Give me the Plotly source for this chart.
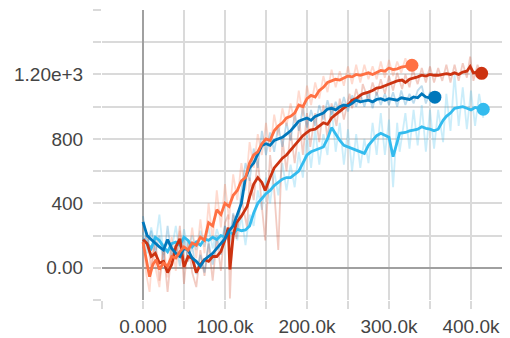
import plotly.graph_objects as go

# ---- data (steps in thousands) ----
orange_steps = [0,4,8,12,16,20,25,30,35,40,45,50,55,60,65,70,75,80,85,90,95,100,105,110,115,120,125,130,135,140,145,150,155,160,165,170,175,180,185,190,195,200,205,210,215,220,225,230,235,240,245,250,255,260,265,270,275,280,285,290,295,300,305,310,315,320,325,328]
orange_smooth = [160,40,-55,20,50,-10,30,10,70,60,100,130,110,155,140,190,170,280,260,360,330,400,380,450,480,540,560,650,700,720,770,800,790,850,880,900,930,940,960,1010,1000,1050,1070,1060,1100,1120,1150,1160,1170,1165,1180,1190,1185,1200,1195,1205,1210,1200,1215,1225,1220,1240,1230,1235,1245,1250,1255,1257]
orange_raw = [180,-40,-150,120,-20,-120,150,-60,190,-20,230,60,40,250,60,300,90,400,170,480,250,520,300,580,420,650,480,780,620,830,700,900,720,950,820,990,880,1020,900,1100,940,1130,1010,1150,1050,1190,1090,1230,1120,1220,1130,1250,1140,1260,1150,1260,1170,1250,1170,1280,1180,1290,1190,1280,1210,1300,1220,1270]

blue_steps = [0,5,10,15,20,25,30,35,40,45,50,55,60,65,70,75,80,85,90,95,100,105,110,115,120,125,130,135,140,145,150,155,160,165,170,175,180,185,190,195,200,205,210,215,220,225,230,235,240,245,250,255,260,265,270,275,280,285,290,295,300,305,310,315,320,325,330,335,340,345,350,356]
blue_smooth = [285,200,175,150,130,110,175,120,90,70,120,110,60,40,10,50,70,90,120,150,180,230,260,330,400,560,620,650,700,760,770,760,790,800,810,830,850,880,910,920,930,915,940,950,960,985,990,980,1000,1010,1005,1020,1040,1030,1035,1040,1030,1045,1050,1040,1050,1045,1040,1055,1050,1045,1060,1055,1080,1060,1055,1059]
blue_raw = [320,150,230,90,200,40,260,60,150,10,200,40,140,-40,80,-30,160,20,200,80,260,150,340,240,480,650,540,740,620,850,700,840,720,880,750,900,790,950,850,990,870,980,880,1010,920,1040,950,1030,960,1060,970,1070,1000,1080,1000,1090,990,1090,1010,1080,1010,1090,1000,1100,1010,1080,1020,1100,1130,1020,1090,1040]

red_steps = [0,5,10,15,20,25,30,35,40,45,50,55,60,65,70,75,80,85,90,95,100,104,106,110,114,120,127,130,135,140,145,149,155,160,165,170,175,180,185,191,195,200,204,210,215,220,225,230,236,240,245,252,255,260,265,268,275,280,285,290,295,300,305,310,316,320,325,329,335,340,345,350,355,360,365,370,375,380,385,390,395,399,403,408,413]
red_smooth = [175,150,70,90,30,40,-30,20,130,180,5,70,60,-30,20,50,40,70,70,100,175,250,-10,200,280,320,380,440,520,560,530,480,560,620,650,680,700,730,760,790,820,840,855,860,880,900,890,930,955,970,990,1020,1040,1050,1070,1080,1090,1100,1115,1120,1130,1140,1150,1160,1165,1150,1170,1175,1185,1195,1190,1200,1195,1195,1200,1205,1200,1210,1200,1215,1220,1250,1210,1215,1207]
red_raw = [120,220,-20,180,-80,120,-150,110,60,260,-100,160,-30,-120,110,-50,150,-80,180,-20,280,330,-190,330,180,430,250,560,420,680,380,170,700,480,110,800,600,850,650,900,700,960,750,960,780,1010,800,1020,880,1050,920,1080,990,1110,1020,1140,1040,1150,1070,1170,1080,1190,1100,1210,1110,1200,1120,1230,1140,1240,1150,1250,1150,1240,1160,1260,1150,1260,1160,1270,1180,1310,1160,1260,1190]

cyan_steps = [0,5,10,15,20,25,30,35,40,45,50,55,60,65,70,75,80,85,90,95,100,105,110,115,120,125,130,135,140,145,150,155,160,165,170,175,180,185,190,195,200,205,210,215,220,225,230,235,240,245,250,255,260,265,270,275,280,285,290,295,300,305,310,313,320,325,330,335,340,345,350,355,360,366,370,375,380,385,390,395,400,405,410,415]
cyan_smooth = [180,150,120,190,170,130,100,150,160,140,190,170,130,160,140,180,170,190,175,200,190,220,210,240,230,235,260,340,400,430,460,480,510,530,550,560,560,580,600,650,700,720,730,740,750,800,870,830,790,760,750,740,730,720,710,760,790,820,835,820,810,690,780,835,840,850,855,860,875,865,860,850,860,915,940,960,990,995,1000,990,980,995,990,984]
cyan_raw = [220,90,250,140,330,80,160,110,260,90,240,120,200,110,230,130,250,120,240,160,260,150,300,170,320,140,330,260,480,360,560,400,600,450,650,480,640,500,720,560,820,620,860,640,830,700,1000,720,900,640,860,600,830,620,800,650,900,700,960,700,920,500,900,720,960,740,980,760,1010,720,980,740,980,780,1080,850,1200,880,1120,860,1100,880,1080,930]

x_tick_vals = [0, 100000, 200000, 300000, 400000]
x_tick_text = ["0.000", "100.0k", "200.0k", "300.0k", "400.0k"]
y_tick_vals = [0, 400, 800, 1200]
y_tick_text = ["0.00", "400", "800", "1.20e+3"]

series = [
    ("cyan", cyan_steps, cyan_smooth, cyan_raw, "#33bbee"),
    ("red", red_steps, red_smooth, red_raw, "#cc3311"),
    ("blue", blue_steps, blue_smooth, blue_raw, "#0077bb"),
    ("orange", orange_steps, orange_smooth, orange_raw, "#ff7043"),
]

fig = go.Figure()
for name, steps, sm, raw, col in series:
    xs = [s * 1000 for s in steps]
    fig.add_trace(go.Scatter(x=xs, y=raw, mode="lines", line=dict(color=col, width=1.8),
                             opacity=0.25, hoverinfo="skip", showlegend=False))
for name, steps, sm, raw, col in series:
    xs = [s * 1000 for s in steps]
    fig.add_trace(go.Scatter(x=xs, y=sm, mode="lines", line=dict(color=col, width=2.8),
                             name=name, showlegend=False))
    fig.add_trace(go.Scatter(x=[xs[-1]], y=[sm[-1]], mode="markers",
                             marker=dict(color=col, size=13), showlegend=False))

grid = "#dadada"
# the page body has an 8px margin, so the figure is offset by 8px
fig.update_layout(
    width=502, height=330,
    margin=dict(l=94, r=0, t=2, b=38),
    paper_bgcolor="white", plot_bgcolor="white",
    font=dict(family="Liberation Sans, Arial, sans-serif", size=19, color="#444"),
    showlegend=False,
)
fig.update_xaxes(
    range=[-50000, 447600], tickvals=x_tick_vals, ticktext=x_tick_text,
    showgrid=True, gridcolor=grid, gridwidth=1.5,
    ticks="outside", ticklen=8, tickcolor=grid, tickwidth=1.5,
    minor=dict(tickvals=[-50000, 50000, 150000, 250000, 350000], showgrid=True, gridcolor=grid,
               gridwidth=1.5, ticks="outside", ticklen=8, tickcolor=grid),
    zeroline=True, zerolinecolor="#a0a0a0", zerolinewidth=2,
    showline=False, ticklabelstandoff=1, automargin=False,
)
fig.update_yaxes(
    range=[-200, 1600], tickvals=y_tick_vals, ticktext=y_tick_text,
    showgrid=True, gridcolor=grid, gridwidth=1.5,
    ticks="outside", ticklen=8, tickcolor=grid, tickwidth=1.5,
    minor=dict(tickvals=[-200, 200, 600, 1000, 1400, 1600], showgrid=True, gridcolor=grid,
               gridwidth=1.5, ticks="outside", ticklen=8, tickcolor=grid),
    zeroline=True, zerolinecolor="#a0a0a0", zerolinewidth=2,
    showline=False, ticklabelstandoff=6, automargin=False,
)

fig.write_html("out.html")
